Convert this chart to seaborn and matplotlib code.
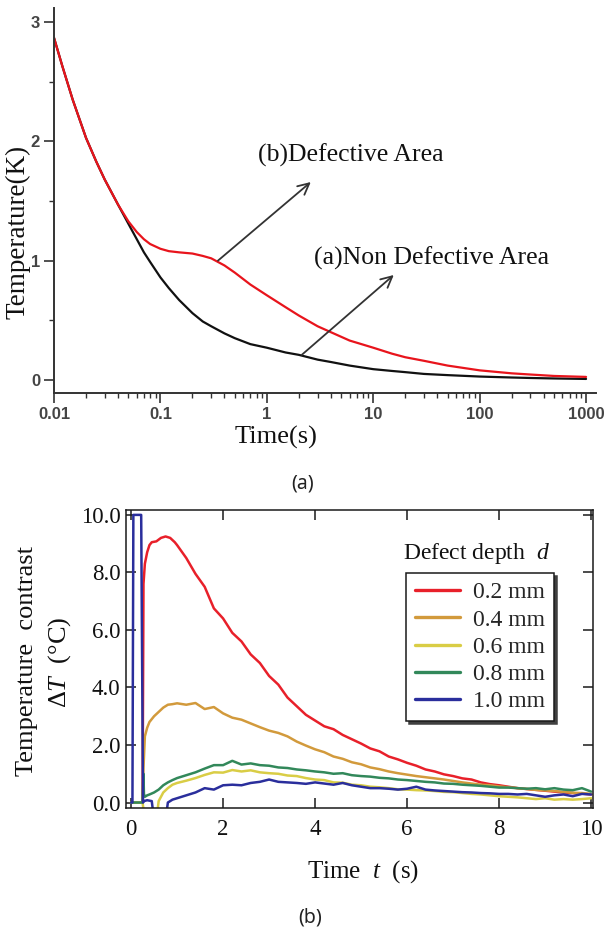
import matplotlib
matplotlib.use('Agg')
import matplotlib.pyplot as plt
import seaborn as sns
import pandas as pd

# ---- panel (a): temperature decay on log time axis ----
t_a = [0.01, 0.012, 0.015, 0.02, 0.025, 0.03, 0.04, 0.05, 0.06, 0.07, 0.08, 0.1,
       0.12, 0.15, 0.2, 0.25, 0.3, 0.4, 0.5, 0.7, 1, 1.5, 2, 3, 4, 6, 10, 15, 20,
       30, 50, 100, 200, 300, 500, 1000]
defective = [2.87, 2.63, 2.35, 2.03, 1.83, 1.68, 1.47, 1.33, 1.24, 1.18, 1.14, 1.10,
             1.08, 1.07, 1.06, 1.04, 1.02, 0.96, 0.90, 0.80, 0.71, 0.61, 0.54, 0.45,
             0.40, 0.33, 0.27, 0.22, 0.19, 0.16, 0.12, 0.08, 0.055, 0.045, 0.033, 0.025]
non_defective = [2.87, 2.63, 2.35, 2.03, 1.83, 1.68, 1.47, 1.31, 1.18, 1.07, 0.99, 0.86,
                 0.77, 0.67, 0.56, 0.49, 0.45, 0.39, 0.35, 0.30, 0.27, 0.23, 0.21, 0.17,
                 0.15, 0.12, 0.09, 0.075, 0.065, 0.05, 0.04, 0.028, 0.02, 0.016, 0.012, 0.008]
xticks_a = [0.01, 0.1, 1, 10, 100, 1000]
xticklabels_a = ['0.01', '0.1', '1', '10', '100', '1000']

# ---- panel (b): temperature contrast for defect depths ----
grid = [round(1.0 + 0.2 * i, 1) for i in range(46)]

t_02 = [0, 0.1, 0.2, 0.25, 0.27, 0.3, 0.35, 0.4, 0.45, 0.55, 0.65, 0.75, 0.85, 0.95] + grid
dT_02 = [0, 0, 0, 0, 7.6, 8.3, 8.7, 8.95, 9.05, 9.08, 9.2, 9.25, 9.2, 9.05,
         8.95, 8.5, 7.95, 7.5, 6.75, 6.4, 5.9, 5.6, 5.15, 4.85, 4.4, 4.1, 3.65, 3.35,
         3.05, 2.85, 2.65, 2.55, 2.35, 2.2, 2.05, 1.88, 1.78, 1.6, 1.5, 1.38, 1.28,
         1.15, 1.08, 0.98, 0.92, 0.84, 0.8, 0.7, 0.64, 0.6, 0.55, 0.5, 0.47, 0.44,
         0.41, 0.38, 0.35, 0.33, 0.31, 0.28]

t_04 = [0, 0.2, 0.25, 0.27, 0.3, 0.35, 0.4, 0.5, 0.6, 0.7, 0.8, 0.9] + grid
dT_04 = [0, 0, 0, 1.2, 2.3, 2.6, 2.8, 3.0, 3.15, 3.3, 3.4, 3.42,
         3.45, 3.4, 3.46, 3.25, 3.32, 3.1, 2.95, 2.88, 2.75, 2.62, 2.5, 2.42, 2.3,
         2.12, 1.98, 1.85, 1.75, 1.6, 1.52, 1.4, 1.33, 1.22, 1.16, 1.08, 1.02, 0.97,
         0.92, 0.88, 0.84, 0.8, 0.75, 0.7, 0.66, 0.62, 0.6, 0.56, 0.53, 0.5, 0.47,
         0.44, 0.42, 0.4, 0.37, 0.34, 0.33, 0.3]

t_06 = [0, 0.1, 0.2, 0.25, 0.3, 0.55, 0.6, 0.7, 0.8, 0.9] + grid
dT_06 = [0, 0, 0, 0, -0.6, -0.6, 0.05, 0.35, 0.5, 0.62,
         0.68, 0.76, 0.85, 0.96, 1.05, 1.04, 1.13, 1.08, 1.12, 1.05, 1.02, 1.0, 0.94,
         0.92, 0.85, 0.8, 0.78, 0.7, 0.69, 0.62, 0.6, 0.55, 0.53, 0.5, 0.46, 0.45,
         0.43, 0.42, 0.4, 0.37, 0.36, 0.33, 0.3, 0.28, 0.25, 0.22, 0.2, 0.18, 0.15,
         0.12, 0.15, 0.1, 0.12, 0.1, 0.12, 0.15]

t_08 = [0, 0.2, 0.25, 0.27, 0.28, 0.3, 0.35, 0.4, 0.5, 0.6, 0.7, 0.8, 0.9] + grid
dT_08 = [0, 0, 0, 1.0, 0.3, 0.2, 0.25, 0.28, 0.35, 0.45, 0.6, 0.7, 0.78,
         0.85, 0.95, 1.05, 1.18, 1.3, 1.3, 1.45, 1.32, 1.36, 1.3, 1.28, 1.22, 1.2,
         1.15, 1.12, 1.08, 1.05, 1.0, 1.02, 0.95, 0.92, 0.9, 0.86, 0.84, 0.8, 0.78,
         0.75, 0.72, 0.7, 0.66, 0.65, 0.62, 0.6, 0.58, 0.55, 0.52, 0.52, 0.5, 0.48,
         0.5, 0.46, 0.5, 0.45, 0.43, 0.5, 0.38]

t_10 = [0, 0.03, 0.05, 0.22, 0.26, 0.28, 0.35, 0.45, 0.5, 0.75, 0.8, 0.9] + grid
dT_10 = [0, 0, 10.0, 10.0, 0, 0.05, 0.08, 0.05, -0.6, -0.6, 0.0, 0.1,
         0.15, 0.25, 0.35, 0.5, 0.45, 0.6, 0.62, 0.6, 0.68, 0.72, 0.8, 0.72, 0.7,
         0.68, 0.65, 0.7, 0.66, 0.62, 0.68, 0.6, 0.55, 0.5, 0.5, 0.48, 0.45, 0.48,
         0.55, 0.45, 0.42, 0.4, 0.38, 0.36, 0.35, 0.33, 0.32, 0.3, 0.3, 0.28, 0.3,
         0.25, 0.2, 0.25, 0.28, 0.22, 0.3, 0.28]

depth_labels = ['0.2 mm', '0.4 mm', '0.6 mm', '0.8 mm', '1.0 mm']
depth_colors = ['#e8202a', '#d29a3c', '#d9cd45', '#32885a', '#2a2e9c']

sns.set_theme(style='ticks')
plt.rcParams['font.family'] = ['Liberation Serif', 'DejaVu Serif']
plt.rcParams['mathtext.fontset'] = 'custom'
plt.rcParams['mathtext.rm'] = 'Liberation Serif'
plt.rcParams['mathtext.it'] = 'Liberation Serif:italic'

fig = plt.figure(figsize=(6.04, 9.31), dpi=100)
W, H = 604.0, 931.0

# ---------------- panel (a) ----------------
ax1 = fig.add_axes([54 / W, 1 - 393 / H, 542 / W, 385 / H])
df_a = pd.DataFrame({'t': t_a * 2,
                     'T': defective + non_defective,
                     'area': ['def'] * len(t_a) + ['non'] * len(t_a)})
ax1.set_xscale('log')
sns.lineplot(data=df_a, x='t', y='T', hue='area', palette={'def': '#e8141c', 'non': '#111111'},
             hue_order=['non', 'def'], estimator=None, sort=False, lw=1.6, legend=False, ax=ax1)
ax1.set_xlim(0.01, 1240)
ax1.set_ylim(-0.11, 3.12)
sns.despine(ax=ax1)
for s in ['left', 'bottom']:
    ax1.spines[s].set_color('#333333')
    ax1.spines[s].set_linewidth(1.4)
ax1.set_xticks(xticks_a)
ax1.set_xticklabels(xticklabels_a)
ax1.set_yticks([0, 1, 2, 3])
ax1.set_yticklabels(['0', '1', '2', '3'])
ax1.set_yticks([0.5, 1.5, 2.5], minor=True)
ax1.tick_params(which='major', direction='out', length=7, width=1.2, color='#333333',
                labelsize=12, labelcolor='#444444', pad=3)
ax1.tick_params(which='minor', direction='out', length=3.5, width=1.0, color='#333333')
for lab in ax1.get_xticklabels() + ax1.get_yticklabels():
    lab.set_family(['Liberation Sans', 'DejaVu Sans'])
    lab.set_fontweight('bold')
ax1.set_xlabel('')
ax1.set_ylabel('')

arrow_kw = dict(arrowstyle='->', color='#333333', lw=1.3, mutation_scale=20, shrinkA=0, shrinkB=0)
ax1.annotate('', xy=(2.59, 1.66), xytext=(0.347, 1.0), arrowprops=arrow_kw)
ax1.annotate('', xy=(15.6, 0.88), xytext=(2.13, 0.21), arrowprops=arrow_kw)
ax1.text(0.82, 1.886, '(b)Defective Area', fontsize=18.5, ha='left', va='center', color='#111111')
ax1.text(2.8, 1.02, '(a)Non Defective Area', fontsize=18.5, ha='left', va='center', color='#111111')

fig.text(18 / W, 1 - 232 / H, 'Temperature(K)', rotation=90, ha='center', va='center',
         fontsize=19.5, color='#111111')
fig.text(276 / W, 1 - 437 / H, 'Time(s)', ha='center', va='center', fontsize=19, color='#111111')
fig.text(303 / W, 1 - 483 / H, '(a)', ha='center', va='center', fontsize=14,
         family=['Noto Sans', 'DejaVu Sans'], color='#222222')

# ---------------- panel (b) ----------------
ax2 = fig.add_axes([126 / W, 1 - 808 / H, 467 / W, 298 / H])
series_t = [t_02, t_04, t_06, t_08, t_10]
series_v = [dT_02, dT_04, dT_06, dT_08, dT_10]
rows = []
for lab, ts, vs in zip(depth_labels, series_t, series_v):
    for tt, vv in zip(ts, vs):
        rows.append((tt, vv, lab))
df_b = pd.DataFrame(rows, columns=['t', 'dT', 'depth'])
sns.lineplot(data=df_b, x='t', y='dT', hue='depth', hue_order=depth_labels,
             palette=dict(zip(depth_labels, depth_colors)), estimator=None, sort=False,
             lw=1.8, ax=ax2)
ax2.set_xlim(-0.11, 10.04)
ax2.set_ylim(-0.19, 10.17)
ax2.set_xticks([0, 2, 4, 6, 8, 10])
ax2.set_yticks([0, 2, 4, 6, 8, 10])
ax2.set_yticklabels(['%.1f' % v for v in [0, 2, 4, 6, 8, 10]])
ax2.tick_params(direction='in', length=7, width=1.1, color='k', top=True, right=True,
                labelsize=16.5, labelcolor='#111111')
ax2.tick_params(axis='x', pad=8)
ax2.tick_params(axis='y', pad=4)
for s in ax2.spines.values():
    s.set_color('k')
    s.set_linewidth(1.1)
ax2.set_xlabel('')
ax2.set_ylabel('')

handles, labels = ax2.get_legend_handles_labels()
leg = ax2.legend(handles, labels, loc='upper left', bbox_to_anchor=(406 / W, 1 - 573 / H),
                 bbox_transform=fig.transFigure, borderaxespad=0, frameon=True, fancybox=False,
                 edgecolor='k', shadow={'color': '0.25', 'alpha': 1.0}, fontsize=17,
                 handlelength=1.9, labelspacing=0.24, borderpad=0.38, handletextpad=0.55)
leg.get_frame().set_linewidth(1.1)
leg.get_frame().set_alpha(1)
for h in leg.get_lines():
    h.set_linewidth(2.4)

fig.text(477 / W, 1 - 553 / H, 'Defect depth  $d$', ha='center', va='center', fontsize=17,
         color='#111111')
fig.text(27 / W, 1 - 661 / H, 'Temperature  contrast', rotation=90, ha='center', va='center',
         fontsize=19, color='#111111')
fig.text(60 / W, 1 - 662 / H, r'$\Delta T$  (°C)', rotation=90, ha='center', va='center',
         fontsize=19, color='#111111')
fig.text(363 / W, 1 - 872 / H, 'Time  $t$  (s)', ha='center', va='center', fontsize=18,
         color='#111111')
fig.text(310 / W, 1 - 918 / H, '(b)', ha='center', va='center', fontsize=14,
         family=['Noto Sans', 'DejaVu Sans'], color='#222222')

fig.savefig('out.png', dpi=100)
